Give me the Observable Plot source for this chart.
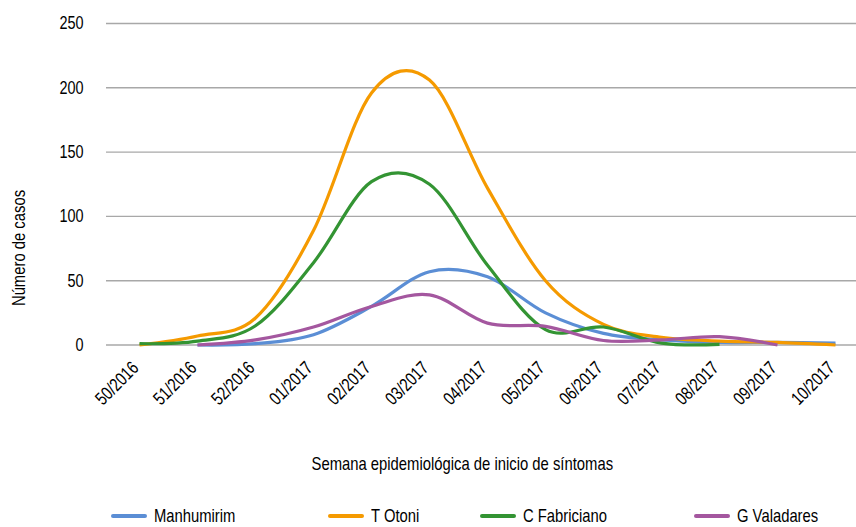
<!DOCTYPE html>
<html>
<head>
<meta charset="utf-8">
<script src="https://cdn.jsdelivr.net/npm/d3@7"></script>
<script src="https://cdn.jsdelivr.net/npm/@observablehq/plot@0.6"></script>
<style>
  html, body { margin: 0; padding: 0; background: #fff; }
  #wrap { position: relative; width: 856px; height: 527px; overflow: hidden; font-family: "Liberation Sans", Arial, sans-serif; color: #000; }
  #chart svg { display: block; }
  #ytitle { position: absolute; left: 19px; top: 247.5px; font-size: 19px; line-height: 20px; white-space: nowrap; transform: translate(-50%, -50%) rotate(-90deg) scaleX(0.78); }
  #xtitle { position: absolute; left: 0; width: 924px; top: 452px; text-align: center; font-size: 19px; line-height: 24px; }
  #xtitle span { display: inline-block; transform: scaleX(0.78); transform-origin: center; }
  .leg { position: absolute; top: 507px; height: 18px; display: flex; align-items: center; font-size: 18.5px; line-height: 18px; white-space: nowrap; }
  .leg span { display: inline-block; transform: scaleX(0.8); transform-origin: left center; }
  .sw { width: 36px; height: 4px; border-radius: 2px; margin-right: 7px; }
</style>
</head>
<body>
<div id="wrap">
  <div id="chart"></div>
  <div id="ytitle">Número de casos</div>
  <div id="xtitle"><span>Semana epidemiológica de inicio de síntomas</span></div>
  <div id="legend"></div>
</div>
<script>
const weeks = ["50/2016","51/2016","52/2016","01/2017","02/2017","03/2017","04/2017","05/2017","06/2017","07/2017","08/2017","09/2017","10/2017"];
const seriesNames = ["Manhumirim", "T Otoni", "C Fabriciano", "G Valadares"];
const seriesColors = ["#5b8ed5", "#f59a00", "#339433", "#a4579f"];
const manhumirim  = [null, 0, 1, 8, 30, 57, 53, 25, 9, 4, 2, 2, 1.5];
const tOtoni      = [0, 7, 21, 89, 196, 206, 122, 50, 16, 6, 3, 2, 0];
const cFabriciano = [1, 3, 15, 64, 127, 125, 62, 12, 14, 1.5, 0.5, null, null];
const gValadares  = [null, 0, 4, 14, 30, 39, 17, 14.5, 3.5, 4, 6.5, 0, null];
const yTicks = [0, 50, 100, 150, 200, 250];

const seriesValues = [manhumirim, tOtoni, cFabriciano, gValadares];
const rows = [];
seriesNames.forEach((name, s) => {
  seriesValues[s].forEach((v, i) => {
    if (v !== null) rows.push({week: weeks[i], value: v, series: name});
  });
});

const chart = Plot.plot({
  width: 856,
  height: 450,
  marginLeft: 106,
  marginRight: 0,
  marginTop: 23,
  marginBottom: 105.5,
  style: {fontFamily: "'Liberation Sans', Arial, sans-serif", fontSize: "18.5px", color: "#000", background: "#fff"},
  x: {type: "point", domain: weeks, padding: 0, insetLeft: 27, insetRight: 16},
  y: {domain: [0, 250]},
  color: {domain: seriesNames, range: seriesColors},
  marks: [
    Plot.gridY(yTicks, {stroke: "#a8a8a8", strokeOpacity: 1, strokeWidth: 1.4}),
    Plot.axisY(yTicks, {tickSize: 0, tickPadding: 23, label: null, fontSize: 18.5}),
    Plot.axisX({tickSize: 0, tickRotate: -45, tickPadding: 20, label: null, fontSize: 18.5, dx: -4}),
    Plot.line(rows, {x: "week", y: "value", z: "series", stroke: "series", curve: "cardinal", strokeWidth: 3.2, strokeLinecap: "butt"})
  ]
});
document.getElementById("chart").appendChild(chart);

// condense all SVG text horizontally (the reference font is a narrow face)
chart.querySelectorAll("text").forEach(t => {
  const len = t.getComputedTextLength();
  if (len > 0) {
    t.setAttribute("textLength", (len * 0.78).toFixed(2));
    t.setAttribute("lengthAdjust", "spacingAndGlyphs");
  }
});

const legendLefts = [111, 328, 480, 694];
const legend = document.getElementById("legend");
seriesNames.forEach((name, i) => {
  const item = document.createElement("div");
  item.className = "leg";
  item.style.left = legendLefts[i] + "px";
  const sw = document.createElement("div");
  sw.className = "sw";
  sw.style.background = seriesColors[i];
  const t = document.createElement("span");
  t.textContent = name;
  item.appendChild(sw);
  item.appendChild(t);
  legend.appendChild(item);
});
</script>
</body>
</html>
